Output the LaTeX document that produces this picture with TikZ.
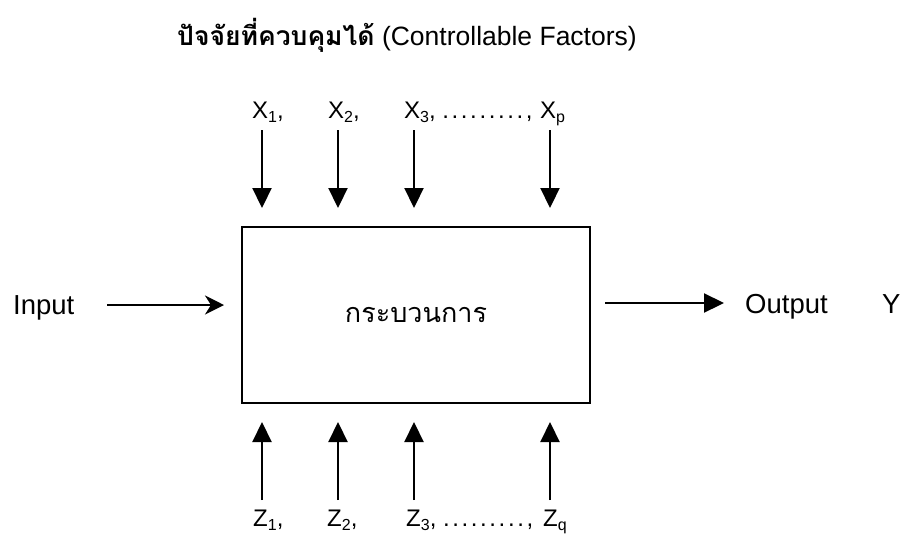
\documentclass[tikz,border=0pt]{standalone}
\usepackage{fontspec}
\setmainfont{Liberation Sans}
\newfontfamily\thaifont[Script=Thai]{Loma}
\usetikzlibrary{arrows.meta}
\newcommand{\lowsub}[1]{\raisebox{-0.38ex}{\fontsize{16}{16}\selectfont #1}}
\newcommand{\dotrow}{\foreach \i in {1,...,9}{.\kern2.6pt}}

\begin{document}
\begin{tikzpicture}[x=1pt,y=-1pt]
\tikzstyle{lab}=[anchor=base west,inner sep=0pt,font=\fontsize{24}{28}\selectfont]
\tikzstyle{big}=[anchor=base west,inner sep=0pt,font=\fontsize{27.5}{32}\selectfont]
\tikzstyle{down}=[line width=2.2pt,-{Triangle[length=20pt,width=19pt]}]
\tikzstyle{up}=[line width=2.2pt,-{Triangle[length=20pt,width=19pt]}]

\useasboundingbox (0,0) rectangle (909,536);

%title
\node[anchor=base west,inner sep=0pt,font=\fontsize{26.5}{30}\selectfont] (title) at (177,45)
  {{\thaifont\bfseries ปัจจัยที่ควบคุมได้} (Controllable Factors)};

%process box
\node[draw,line width=2.3pt,minimum width=348pt,minimum height=176pt,inner sep=0pt,
  font=\thaifont\fontsize{27}{32}\selectfont] (proc) at (416,315) {กระบวนการ};

%input and output
\node[big] (input) at (13,314) {Input};
\node[big] (output) at (745,313) {Output};
\node[big] (y) at (882,313) {Y};
\coordinate (ins) at (107,305);
\coordinate (ine) at (224,305);
\coordinate (outs) at (605,303);
\coordinate (oute) at (724,303);
\draw[line width=2.2pt,-{Stealth[length=19pt,width=19pt,inset=6pt]}] (ins) -- (ine);
\draw[line width=2.2pt,-{Triangle[length=20pt,width=19pt]}] (outs) -- (oute);

%controllable factors on top
\node[lab] (x1) at (252,118) {X\lowsub{1},};
\node[lab] (x2) at (328,118) {X\lowsub{2},};
\node[lab] (x3) at (404,118) {X\lowsub{3}, \dotrow,};
\node[lab] (xp) at (540,118) {X\lowsub{p}};
\coordinate (xs1) at (262,130);
\coordinate (xe1) at (262,208);
\coordinate (xs2) at (338,130);
\coordinate (xe2) at (338,208);
\coordinate (xs3) at (414,130);
\coordinate (xe3) at (414,208);
\coordinate (xsp) at (550,130);
\coordinate (xep) at (550,208);
\draw[down] (xs1) -- (xe1);
\draw[down] (xs2) -- (xe2);
\draw[down] (xs3) -- (xe3);
\draw[down] (xsp) -- (xep);

%factors at the bottom
\node[lab] (z1) at (253,526) {Z\lowsub{1},};
\node[lab] (z2) at (327,526) {Z\lowsub{2},};
\node[lab] (z3) at (406,526) {Z\lowsub{3}, \dotrow,};
\node[lab] (zq) at (543,526) {Z\lowsub{q}};
\coordinate (zs1) at (262,500);
\coordinate (ze1) at (262,422);
\coordinate (zs2) at (338,500);
\coordinate (ze2) at (338,422);
\coordinate (zs3) at (414,500);
\coordinate (ze3) at (414,422);
\coordinate (zsq) at (550,500);
\coordinate (zeq) at (550,422);
\draw[up] (zs1) -- (ze1);
\draw[up] (zs2) -- (ze2);
\draw[up] (zs3) -- (ze3);
\draw[up] (zsq) -- (zeq);
\end{tikzpicture}
\end{document}
